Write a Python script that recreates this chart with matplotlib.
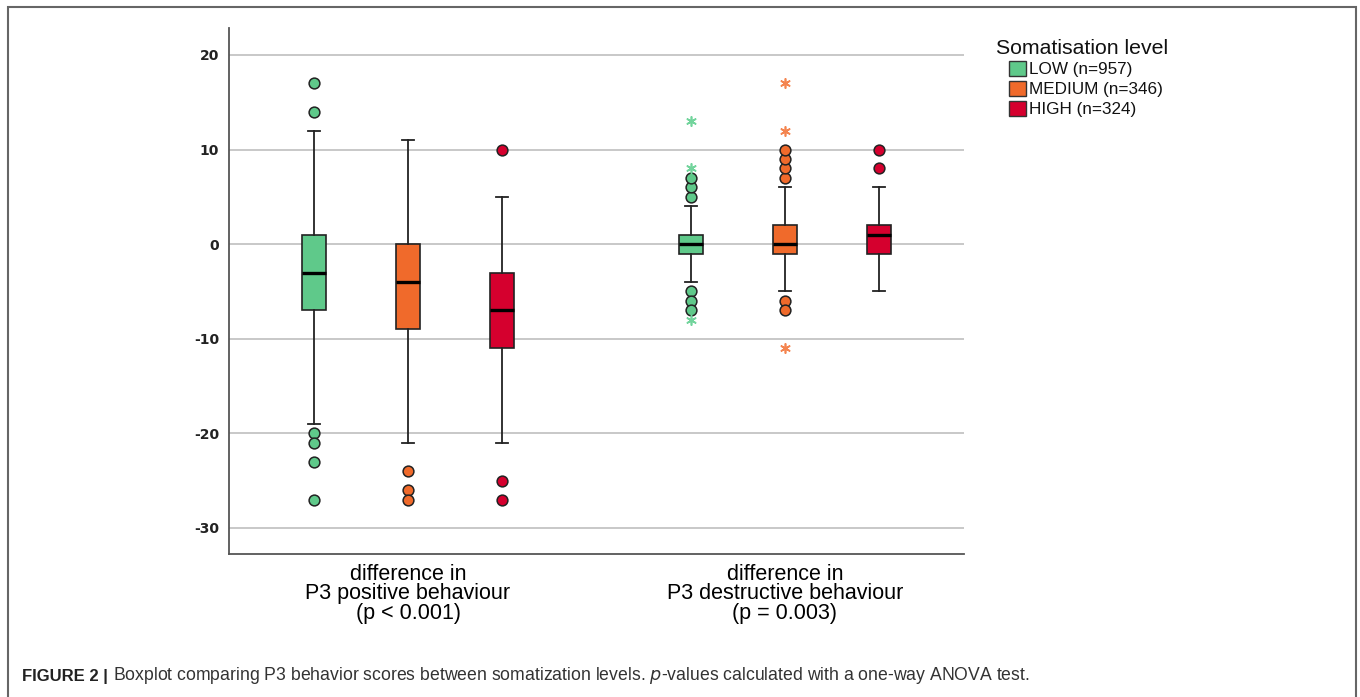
import matplotlib.pyplot as plt
from matplotlib.patches import Patch, Rectangle

plt.rcParams['font.family'] = ['Liberation Sans', 'DejaVu Sans']

groups = ["difference in\nP3 positive behaviour\n(p < 0.001)",
          "difference in\nP3 destructive behaviour\n(p = 0.003)"]
levels = ["LOW (n=957)", "MEDIUM (n=346)", "HIGH (n=324)"]
colors = ["#5fc98a", "#f06a2b", "#d5002e"]
star_colors = ["#72d49c", "#f4844f", "#d5002e"]

# box stats per group, per level: whislo, q1, med, q3, whishi
positive_stats = [[-19, -7, -3, 1, 12],
                  [-21, -9, -4, 0, 11],
                  [-21, -11, -7, -3, 5]]
destructive_stats = [[-4, -1, 0, 1, 4],
                     [-5, -1, 0, 2, 6],
                     [-5, -1, 1, 2, 6]]

# outliers (circles) and extreme values (stars)
positive_out = [[17, 14, -20, -21, -23, -27],
                [-24, -26, -27],
                [10, -25, -27]]
positive_ext = [[], [], []]
destructive_out = [[5, 6, 7, -5, -6, -7],
                   [7, 8, 9, 10, -6, -7],
                   [8, 10]]
destructive_ext = [[8, 13, -8],
                   [12, 17, -11],
                   []]

fig = plt.figure(figsize=(13.6, 6.97), dpi=100)
ax = fig.add_axes([229 / 1360, 1 - 554 / 697, (964 - 229) / 1360, (554 - 28) / 697])

group_centers = [2.0, 6.0]
offset = 1.0
all_stats = [positive_stats, destructive_stats]
all_out = [positive_out, destructive_out]
all_ext = [positive_ext, destructive_ext]

for g, center in enumerate(group_centers):
    for i in range(3):
        pos = center + (i - 1) * offset
        lo, q1, med, q3, hi = all_stats[g][i]
        stats = [dict(whislo=lo, q1=q1, med=med, q3=q3, whishi=hi, fliers=[])]
        ax.bxp(stats, positions=[pos], widths=0.25, patch_artist=True,
               showfliers=False,
               boxprops=dict(facecolor=colors[i], edgecolor="#222222", linewidth=1.2),
               medianprops=dict(color="black", linewidth=2.4),
               whiskerprops=dict(color="#222222", linewidth=1.3),
               capprops=dict(color="#222222", linewidth=1.3),
               capwidths=0.13, zorder=3)
        out = all_out[g][i]
        ax.scatter([pos] * len(out), out, s=60, facecolor=colors[i],
                   edgecolor="#222222", linewidth=1.1, zorder=4)
        ext = all_ext[g][i]
        ax.scatter([pos] * len(ext), ext, s=45, marker=(6, 2, 0),
                   color=star_colors[i], linewidth=1.2, zorder=4)

ax.set_xlim(0.1, 7.9)
ax.set_ylim(-32.75, 22.85)
ax.set_yticks([20, 10, 0, -10, -20, -30])
ax.set_yticklabels(["20", "10", "0", "-10", "-20", "-30"],
                   fontsize=10, fontweight="bold", color="#222222",
                   family="DejaVu Sans")
ax.tick_params(axis="y", length=0, pad=7)
ax.set_xticks(group_centers)
ax.set_xticklabels(groups, fontsize=15.5, linespacing=0.9)
ax.tick_params(axis="x", length=0, pad=7)
ax.grid(axis="y", color="#c4c4c4", linewidth=1.3)
ax.set_axisbelow(True)
for side in ["top", "right"]:
    ax.spines[side].set_visible(False)
for side in ["left", "bottom"]:
    ax.spines[side].set_color("#555555")
    ax.spines[side].set_linewidth(1.3)

# legend title and entries
fig.text(996 / 1360, 1 - 48 / 697, "Somatisation level", fontsize=15.3,
         color="#111111", va="center", ha="left")
handles = [Patch(facecolor=c, edgecolor="#333333", linewidth=1) for c in colors]
leg = fig.legend(handles, levels, loc="upper left",
                 bbox_to_anchor=(1009 / 1360, 1 - 61 / 697), frameon=False,
                 fontsize=12.3, handlelength=1.0,
                 handleheight=1.0, handletextpad=0.15, labelspacing=0.2,
                 borderaxespad=0, borderpad=0)
for t in leg.get_texts():
    t.set_color("#111111")

# frame around figure
fig.add_artist(Rectangle((8 / 1360, -0.05), (1356 - 8) / 1360, 1 - 7 / 697 + 0.05,
                         fill=False, edgecolor="#666666", linewidth=1.5,
                         transform=fig.transFigure))

fig.text(22 / 1360, 1 - 676 / 697, "FIGURE 2 |", fontsize=12, fontweight="bold",
         color="#222222", va="center", ha="left")
fig.text(113 / 1360, 1 - 676 / 697,
         "Boxplot comparing P3 behavior scores between somatization levels. "
         "$\\it{p}$-values calculated with a one-way ANOVA test.",
         fontsize=12.7, color="#333333", va="center", ha="left")

fig.savefig("out.png", dpi=100)
